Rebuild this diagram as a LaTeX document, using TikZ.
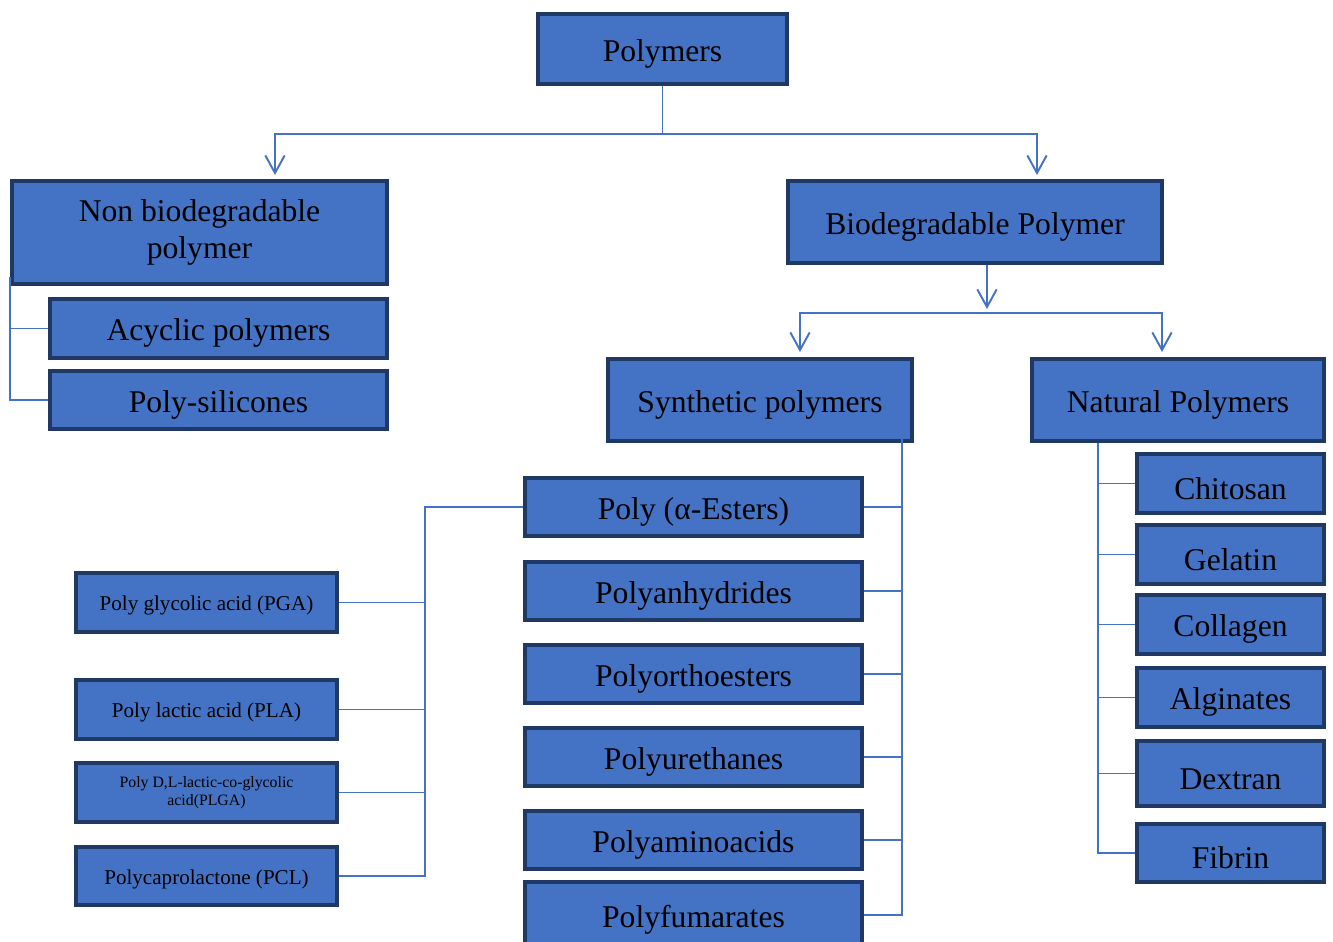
\documentclass[tikz,border=0pt]{standalone}
\usepackage{fontspec}
\setmainfont{Liberation Serif}
\usetikzlibrary{arrows.meta,calc}
\definecolor{boxfill}{HTML}{4472C4}
\definecolor{boxline}{HTML}{1F3864}
\tikzstyle{box}=[draw=boxline, fill=boxfill, line width=2.27pt, inner sep=0pt, align=center, text=black, font=\fontsize{18}{21.5}\selectfont, execute at begin node={\rule{0pt}{1em}}]
\tikzstyle{small}=[font=\fontsize{12}{14}\selectfont]
\tikzstyle{tiny}=[font=\fontsize{9}{10.5}\selectfont]
\tikzstyle{link}=[draw=boxfill, line width=1.1pt]
\tikzstyle{arr}=[link, -{Straight Barb[length=10pt,width=11pt]}]

\begin{document}
\begin{tikzpicture}[x=0.02cm, y=-0.02cm]
\useasboundingbox (0,0) rectangle (1333,942);
\clip (0,0) rectangle (1333,942);
% Top levels
    \node[box, minimum width=4.98cm, minimum height=1.40cm] (poly) at (662.5,49) {Polymers};
    \node[box, minimum width=7.50cm, minimum height=2.06cm] (nonbio) at (199.5,232.5) {Non biodegradable\\polymer};
    \node[box, minimum width=7.48cm, minimum height=1.64cm] (biodeg) at (975,222) {Biodegradable Polymer};
    \node[box, minimum width=6.08cm, minimum height=1.64cm] (synth) at (760,400) {Synthetic polymers};
    \node[box, minimum width=5.84cm, minimum height=1.64cm] (natural) at (1178,400) {Natural Polymers};
% Non biodegradable
    \node[box, minimum width=6.74cm, minimum height=1.18cm] (acyc) at (218.5,328.5) {Acyclic polymers};
    \node[box, minimum width=6.74cm, minimum height=1.16cm] (sil) at (218.5,400) {Poly-silicones};
% Synthetic
    \node[box, minimum width=6.74cm, minimum height=1.16cm] (ester) at (693.5,507) {Poly (α-Esters)};
    \node[box, minimum width=6.74cm, minimum height=1.16cm] (anhyd) at (693.5,591) {Polyanhydrides};
    \node[box, minimum width=6.74cm, minimum height=1.16cm] (ortho) at (693.5,674) {Polyorthoesters};
    \node[box, minimum width=6.74cm, minimum height=1.16cm] (ureth) at (693.5,757) {Polyurethanes};
    \node[box, minimum width=6.74cm, minimum height=1.16cm] (amino) at (693.5,840) {Polyaminoacids};
    \node[box, minimum width=6.74cm, minimum height=1.32cm] (fum) at (693.5,915) {Polyfumarates};
% Poly esters
    \node[box, small, minimum width=5.22cm, minimum height=1.18cm] (pga) at (206.5,602.5) {Poly glycolic acid (PGA)};
    \node[box, small, minimum width=5.22cm, minimum height=1.18cm] (pla) at (206.5,709.5) {Poly lactic acid (PLA)};
    \node[box, tiny, minimum width=5.22cm, minimum height=1.18cm] (plga) at (206.5,792.5) {Poly D,L-lactic-co-glycolic\\acid(PLGA)};
    \node[box, small, minimum width=5.22cm, minimum height=1.16cm] (pcl) at (206.5,876) {Polycaprolactone (PCL)};
% Natural
    \node[box, minimum width=3.74cm, minimum height=1.18cm] (chit) at (1230.5,483.5) {Chitosan};
    \node[box, minimum width=3.74cm, minimum height=1.18cm] (gel) at (1230.5,554.5) {Gelatin};
    \node[box, minimum width=3.74cm, minimum height=1.18cm] (coll) at (1230.5,624.5) {Collagen};
    \node[box, minimum width=3.74cm, minimum height=1.18cm] (alg) at (1230.5,697.5) {Alginates};
    \node[box, minimum width=3.74cm, minimum height=1.30cm] (dex) at (1230.5,773.5) {Dextran};
    \node[box, minimum width=3.74cm, minimum height=1.16cm] (fib) at (1230.5,853) {Fibrin};
% Arrows
    \coordinate (split1) at ($(poly.south)+(0,48)$);
    \draw[link] (poly.south) -- (split1);
    \draw[arr] (split1) -| ($(nonbio.north)+(75.5,-4)$);
    \draw[arr] (split1) -| ($(biodeg.north)+(62,-4)$);
    \draw[arr] ($(biodeg.south)+(12,0)$) -- ($(biodeg.south)+(12,44)$);
    \coordinate (split2) at ($(biodeg.south)+(12,48)$);
    \draw[arr] (split2) -| ($(synth.north)+(40,-5)$);
    \draw[arr] (split2) -| ($(natural.north)+(-16,-5)$);
% Brackets
    \draw[link] ($(nonbio.south west)+(0,-9)$) |- (acyc.west);
    \draw[link] (nonbio.south west) |- (sil.west);
    \coordinate (trunkS) at ($(synth.south east)+(-12,-11)$);
    \draw[link] (trunkS) |- (fum.east);
    \foreach \n in {ester,anhyd,ortho,ureth,amino}
        \draw[link] (\n.east) -- (\n.east -| trunkS);
    \coordinate (trunkL) at (425,0);
    \draw[link] (ester.west) -| (trunkL |- pcl.east) -- (pcl.east);
    \foreach \n in {pga,pla,plga}
        \draw[link] (\n.east) -- (\n.east -| trunkL);
    \coordinate (trunkR) at ($(natural.south west)+(68,0)$);
    \draw[link] (trunkR) |- (fib.west);
    \foreach \n in {chit,gel,coll,alg,dex}
        \draw[link] (\n.west) -- (\n.west -| trunkR);
\end{tikzpicture}
\end{document}
